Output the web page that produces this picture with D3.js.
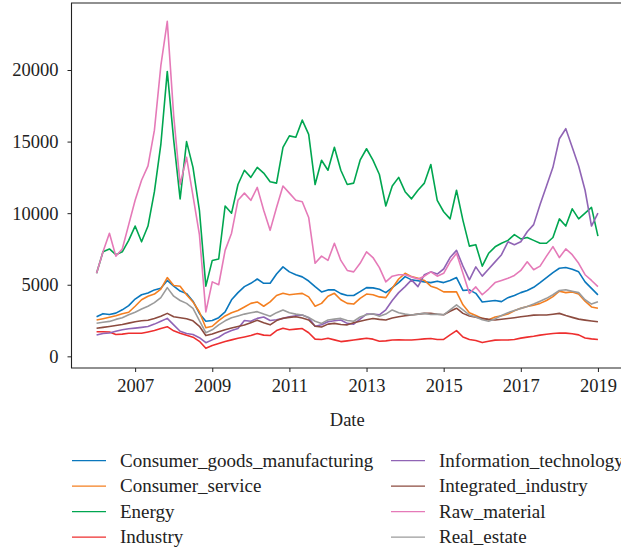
<!DOCTYPE html>
<html>
<head>
  <meta charset="utf-8">
  <script src="https://d3js.org/d3.v7.min.js"></script>
  <style>
    body { margin: 0; background: #fff; }
    text { font-family: "Liberation Serif", "Times New Roman", serif; fill: #222; }
  </style>
</head>
<body>
  <div id="my_dataviz"></div>
<script>

  // bimonthly samples
  var dates = [
    "2006-01","2006-03","2006-05","2006-07","2006-09","2006-11",
    "2007-01","2007-03","2007-05","2007-07","2007-09","2007-11",
    "2008-01","2008-03","2008-05","2008-07","2008-09","2008-11",
    "2009-01","2009-03","2009-05","2009-07","2009-09","2009-11",
    "2010-01","2010-03","2010-05","2010-07","2010-09","2010-11",
    "2011-01","2011-03","2011-05","2011-07","2011-09","2011-11",
    "2012-01","2012-03","2012-05","2012-07","2012-09","2012-11",
    "2013-01","2013-03","2013-05","2013-07","2013-09","2013-11",
    "2014-01","2014-03","2014-05","2014-07","2014-09","2014-11",
    "2015-01","2015-03","2015-05","2015-07","2015-09","2015-11",
    "2016-01","2016-03","2016-05","2016-07","2016-09","2016-11",
    "2017-01","2017-03","2017-05","2017-07","2017-09","2017-11",
    "2018-01","2018-03","2018-05","2018-07","2018-09","2018-11",
    "2019-01"];

  var consumerGoods = [
    2770, 2980, 2920, 3020, 3250, 3540,
    4000, 4300, 4420, 4640, 4750, 5300,
    4900, 4560, 4380, 3850, 3000, 2450,
    2500, 2700, 3100, 3950, 4450, 4870,
    5100, 5400, 5100, 5100, 5750, 6250,
    5900, 5700, 5550, 5260, 4870, 4500,
    4640, 4640, 4380, 4250, 4250, 4520,
    4800, 4780, 4680, 4450, 4800, 5150,
    5570, 5340, 5280, 5200, 5150, 5250,
    5150, 5300, 5500, 4600, 4640, 4400,
    3800, 3850, 3900, 3820, 4100, 4250,
    4450, 4600, 4820, 5150, 5500, 5850,
    6150, 6200, 6080, 5900, 5200, 4750,
    4290];

  var consumerService = [
    2540, 2630, 2730, 2830, 2970, 3080,
    3500, 3950, 4200, 4350, 4700, 5500,
    4950, 4900, 4300, 3800, 3100, 2000,
    2100, 2500, 2820, 3050, 3200, 3450,
    3700, 3800, 3500, 3800, 4250, 4400,
    4300, 4350, 4400, 4150, 3500, 3700,
    4200, 4400, 3950, 3700, 3650, 4050,
    4350, 4300, 4150, 4100, 4750, 5400,
    5800, 5570, 5450, 5300, 4900, 4750,
    4500, 4500, 4500, 3600, 3050, 2850,
    2650, 2550, 2750, 2830, 2950, 3180,
    3350, 3480, 3570, 3700, 3900, 4170,
    4550, 4450, 4500, 4350, 3850, 3450,
    3360];

  var energy = [
    5800, 7300, 7500, 7100, 7300, 8100,
    9100, 8000, 9100, 11500, 14800, 19900,
    15100, 11000, 15000, 13200, 10200, 4900,
    6700, 6800, 10500, 10000, 12000, 13000,
    12500, 13200, 12800, 12200, 12100, 14600,
    15400, 15300, 16500, 15500, 12000, 13700,
    13000, 14600, 13000, 12000, 12100, 13700,
    14500, 13700, 12700, 10500, 11900, 12500,
    11500, 11000, 11600, 12100, 13400, 10900,
    10100, 9600, 11600, 9500, 7700, 7800,
    6300, 7200, 7650, 7900, 8100, 8500,
    8200, 8300, 8100, 7900, 7900, 8300,
    9600, 9100, 10300, 9600, 10000, 10400,
    8400];

  var industry = [
    1720, 1720, 1700, 1520, 1550, 1610,
    1610, 1610, 1700, 1800, 1950, 2070,
    1780, 1620, 1480, 1340, 1050, 560,
    760, 900, 1040, 1150, 1260, 1350,
    1450, 1600, 1480, 1450, 1800, 1960,
    1860, 1900, 1940, 1650, 1200, 1180,
    1260, 1150, 1030, 1080, 1140, 1200,
    1260, 1200, 1050, 1080, 1140, 1150,
    1140, 1140, 1180, 1220, 1250, 1180,
    1180, 1500, 1800, 1350, 1180, 1100,
    960, 1050, 1130, 1140, 1140, 1180,
    1270, 1340, 1400, 1480, 1540, 1600,
    1630, 1620, 1580, 1500, 1280, 1220,
    1180];

  var infoTech = [
    1490, 1600, 1630, 1750, 1860, 1930,
    1970, 2020, 2080, 2250, 2450, 2650,
    2200, 1750, 1600, 1520, 1300, 950,
    1150, 1330, 1620, 1800, 1940, 2500,
    2450, 2650, 2750, 2500, 2550, 2650,
    2770, 2830, 2880, 2700, 2100, 2200,
    2420, 2480, 2540, 2300, 2250, 2600,
    2950, 2950, 2900, 3250, 3900, 4450,
    4870, 5340, 4870, 5700, 5900, 5750,
    6100, 6900, 7400, 6300, 5340, 6250,
    5600, 6100, 6600, 7100, 8000, 7800,
    8000, 8700, 9200, 10600, 11900, 13200,
    15200, 15900, 14600, 13300, 11600, 9100,
    10000];

  var integrated = [
    1960, 2020, 2080, 2150, 2220, 2320,
    2420, 2480, 2520, 2640, 2800, 3000,
    2770, 2700, 2630, 2480, 2100, 1450,
    1560, 1720, 1860, 1980, 2080, 2190,
    2350, 2520, 2350, 2200, 2500, 2660,
    2720, 2770, 2680, 2540, 2100, 2050,
    2250, 2300, 2220, 2200, 2350, 2450,
    2550, 2640, 2580, 2540, 2680, 2770,
    2830, 2890, 2950, 3000, 3000, 2940,
    2900, 3150, 3360, 3000, 2820, 2740,
    2650, 2580, 2540, 2590, 2640, 2700,
    2770, 2820, 2880, 2890, 2890, 2940,
    3000, 2850, 2720, 2600, 2530, 2470,
    2420];

  var rawMaterial = [
    5800, 7300, 8600, 7000, 7500, 9200,
    10900, 12300, 13300, 15800, 20300, 23400,
    16800, 12000, 13900, 11200, 8500, 3100,
    5200, 5000, 7400, 8600, 10900, 11400,
    10900, 11800, 10200, 8800, 10400, 11900,
    11400, 10900, 10800, 9700, 6500, 7000,
    6700, 7900, 6700, 6000, 5900, 6500,
    7300, 6900, 6200, 5200, 5600, 5700,
    5700, 5550, 5400, 5600, 5900, 5600,
    5800, 6600, 7200, 5800, 4400, 4850,
    4300, 4700, 5150, 5300, 5450, 5650,
    6000, 6600, 6050, 6300, 7000, 7660,
    6900, 7500, 7100, 6500, 5700, 5300,
    4870];

  var realEstate = [
    2310, 2380, 2440, 2580, 2700, 2900,
    3080, 3300, 3500, 3750, 4100, 4800,
    4200, 3900, 3700, 3350, 2500, 1650,
    1850, 2200, 2480, 2700, 2820, 2950,
    3050, 3120, 2950, 2800, 3050, 3240,
    3050, 2950, 2890, 2720, 2450, 2300,
    2540, 2600, 2650, 2500, 2450, 2750,
    2900, 2980, 2800, 2950, 3240, 3050,
    2950, 2890, 2950, 3000, 2920, 2950,
    2900, 3250, 3590, 3240, 2890, 2750,
    2550, 2450, 2620, 2850, 3050, 3200,
    3350, 3480, 3650, 3850, 4050, 4300,
    4600, 4650, 4550, 4450, 3950, 3650,
    3820];

  var seriesNames = ["Consumer_goods_manufacturing", "Consumer_service", "Energy", "Industry",
                     "Information_technology", "Integrated_industry", "Raw_material", "Real_estate"];
  var seriesValues = [consumerGoods, consumerService, energy, industry,
                      infoTech, integrated, rawMaterial, realEstate];
  var colors = ["#0a77bd", "#f47f20", "#00a650", "#ee2e2e",
                "#9064b5", "#8c4b3f", "#e57ab8", "#9b9b9b"];

  var xTicks = [2007, 2009, 2011, 2013, 2015, 2017, 2019];
  var yTicks = [0, 5000, 10000, 15000, 20000];

  // plot box (right edge falls just outside the picture)
  var box = {left: 71.5, right: 623, top: 3, bottom: 368};
  var fontSize = 18.5;

  var svg = d3.select("#my_dataviz")
    .append("svg")
      .attr("width", 621)
      .attr("height", 550);

  function toYear(s) {
    return +s.slice(0, 4) + (+s.slice(5, 7) - 1) / 12;
  }
  var years = dates.map(toYear);

  // x scale with matplotlib-like 5% margins
  var ext = d3.extent(years), pad = (ext[1] - ext[0]) * 0.05;
  var x = d3.scaleLinear()
    .domain([ext[0] - pad, ext[1] + pad])
    .range([box.left, box.right]);

  var y = d3.scaleLinear()
    .domain([-815, 24680])
    .range([box.bottom, box.top]);

  // lines
  var line = d3.line()
    .x(function(d) { return x(d[0]); })
    .y(function(d) { return y(d[1]); });

  seriesValues.forEach(function(vals, i) {
    svg.append("path")
      .datum(vals.map(function(v, j) { return [years[j], v]; }))
      .attr("fill", "none")
      .attr("stroke", colors[i])
      .attr("stroke-width", 1.6)
      .attr("stroke-linejoin", "round")
      .attr("d", line);
  });

  // axes
  var xAxis = svg.append("g")
    .attr("transform", "translate(0," + box.bottom + ")")
    .call(d3.axisBottom(x).tickValues(xTicks).tickFormat(d3.format("d"))
      .tickSize(4).tickPadding(7));
  var yAxis = svg.append("g")
    .attr("transform", "translate(" + box.left + ",0)")
    .call(d3.axisLeft(y).tickValues(yTicks).tickFormat(d3.format("d"))
      .tickSize(4).tickPadding(9));

  [xAxis, yAxis].forEach(function(g) {
    g.select(".domain").remove();
    g.selectAll(".tick line").attr("stroke", "#222").attr("stroke-width", 1);
    g.selectAll(".tick text")
      .attr("fill", "#222")
      .style("font-family", "'Liberation Serif', serif")
      .style("font-size", fontSize + "px");
  });

  // spines: left, bottom, top
  svg.append("path")
    .attr("fill", "none")
    .attr("stroke", "#222")
    .attr("stroke-width", 1.1)
    .attr("d", "M" + box.right + "," + box.top + "H" + box.left + "V" + box.bottom + "H" + box.right);

  svg.append("text")
    .attr("x", (box.left + box.right) / 2)
    .attr("y", 426)
    .attr("text-anchor", "middle")
    .style("font-size", fontSize + "px")
    .text("Date");

  // legend, two columns of four
  var legendCols = [72, 391];
  var legend = svg.append("g");
  seriesNames.forEach(function(name, i) {
    var cx = legendCols[Math.floor(i / 4)];
    var cy = 460.7 + (i % 4) * 25.5;
    legend.append("line")
      .attr("x1", cx).attr("x2", cx + 34)
      .attr("y1", cy).attr("y2", cy)
      .attr("stroke", colors[i])
      .attr("stroke-width", 1.3);
    legend.append("text")
      .attr("x", cx + 48)
      .attr("y", cy + 5.8)
      .style("font-size", "19px")
      .text(name);
  });

</script>
</body>
</html>
